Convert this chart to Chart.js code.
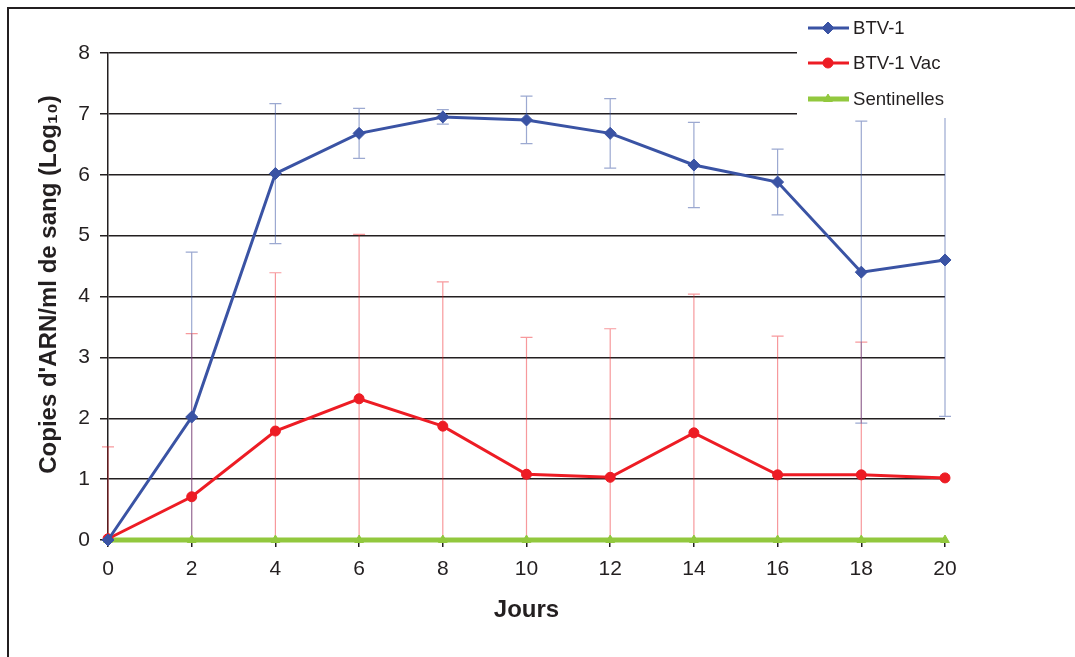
<!DOCTYPE html>
<html>
<head>
<meta charset="utf-8">
<script src="https://cdn.jsdelivr.net/npm/chart.js@4"></script>
<style>
  html, body { margin: 0; padding: 0; background: #fff; }
  #wrap { width: 1075px; height: 657px; }
</style>
</head>
<body>
<div id="wrap"><canvas id="chart" width="1075" height="657"></canvas></div>
<script>
// values (log10 copies / ml)
const days = [0, 2, 4, 6, 8, 10, 12, 14, 16, 18, 20];
const btv1 = [0.0, 2.02, 6.02, 6.68, 6.95, 6.90, 6.68, 6.16, 5.88, 4.40, 4.60];
const btv1Sd = [0, 2.71, 1.15, 0.41, 0.12, 0.39, 0.57, 0.70, 0.54, 2.48, 2.57];
const btv1Vac = [0.02, 0.71, 1.79, 2.32, 1.87, 1.08, 1.03, 1.76, 1.07, 1.07, 1.02];
const btv1VacSd = [1.51, 2.68, 2.60, 2.70, 2.37, 2.25, 2.44, 2.28, 2.28, 2.18, 0];
const sentinelles = [0, 0, 0, 0, 0, 0, 0, 0, 0, 0, 0];

const FONT = '"Liberation Sans", Arial, sans-serif';
const BLUE = '#3a53a4';
const RED = '#ed1c24';
const GREEN = '#92c83e';

const pts = arr => days.map((d, i) => ({ x: d, y: arr[i] }));

// error bars, drawn under the lines
const errorBars = {
  id: 'errorBars',
  beforeDatasetsDraw(chart) {
    const { ctx, chartArea, scales: { x, y } } = chart;
    const sets = [
      { vals: btv1Vac, sd: btv1VacSd, color: 'rgba(237,28,36,0.45)' },
      { vals: btv1, sd: btv1Sd, color: 'rgba(58,83,164,0.5)' }
    ];
    ctx.save();
    ctx.beginPath();
    ctx.rect(chartArea.left - 10, chartArea.top, chartArea.width + 20, chartArea.height);
    ctx.clip();
    ctx.lineWidth = 1.2;
    sets.forEach(s => {
      ctx.strokeStyle = s.color;
      days.forEach((d, i) => {
        if (!s.sd[i]) return;
        const px = x.getPixelForValue(d);
        const top = y.getPixelForValue(s.vals[i] + s.sd[i]);
        const bot = y.getPixelForValue(s.vals[i] - s.sd[i]);
        ctx.beginPath();
        ctx.moveTo(px, top); ctx.lineTo(px, bot);
        ctx.moveTo(px - 6, top); ctx.lineTo(px + 6, top);
        ctx.moveTo(px - 6, bot); ctx.lineTo(px + 6, bot);
        ctx.stroke();
      });
    });
    ctx.restore();
  }
};

// outer frame of the figure
const frame = {
  id: 'frame',
  beforeDraw(chart) {
    const ctx = chart.ctx;
    ctx.save();
    ctx.fillStyle = '#fff';
    ctx.fillRect(0, 0, chart.width, chart.height);
    ctx.strokeStyle = '#231f20';
    ctx.lineWidth = 2;
    ctx.strokeRect(8, 8, 1200, 800);
    ctx.restore();
  }
};

// legend box in the top right corner, over the plot
const legendBox = {
  id: 'legendBox',
  afterDraw(chart) {
    const ctx = chart.ctx;
    ctx.save();
    ctx.fillStyle = '#fff';
    ctx.fillRect(797, 9, 300, 109);
    chart.data.datasets.forEach((ds, i) => {
      const yy = [28, 63, 99][i];
      ctx.strokeStyle = ds.borderColor;
      ctx.lineWidth = ds.borderWidth;
      ctx.beginPath();
      ctx.moveTo(808, yy); ctx.lineTo(849, yy);
      ctx.stroke();
      ctx.fillStyle = ds.backgroundColor;
      ctx.lineWidth = 1;
      Chart.helpers.drawPoint(ctx, { pointStyle: ds.pointStyle, radius: ds.pointRadius, rotation: 0, borderWidth: 1 }, 828, yy);
      ctx.fillStyle = '#231f20';
      ctx.font = '18.6px ' + FONT;
      ctx.textBaseline = 'middle';
      ctx.fillText(ds.label, 853, yy + 1);
    });
    ctx.restore();
  }
};

new Chart(document.getElementById('chart'), {
  type: 'line',
  data: {
    datasets: [
      {
        label: 'BTV-1', data: pts(btv1),
        borderColor: BLUE, backgroundColor: BLUE, borderWidth: 3,
        pointStyle: 'rectRot', pointRadius: 6, pointBorderWidth: 1
      },
      {
        label: 'BTV-1 Vac', data: pts(btv1Vac),
        borderColor: RED, backgroundColor: RED, borderWidth: 3,
        pointStyle: 'circle', pointRadius: 5, pointBorderWidth: 1
      },
      {
        label: 'Sentinelles', data: pts(sentinelles),
        borderColor: GREEN, backgroundColor: GREEN, borderWidth: 5,
        pointStyle: 'triangle', pointRadius: 5, pointBorderWidth: 1
      }
    ]
  },
  options: {
    responsive: false,
    animation: false,
    clip: false,
    layout: { padding: { left: 31, top: 53, right: 130, bottom: 32 } },
    plugins: { legend: { display: false }, tooltip: { enabled: false } },
    scales: {
      x: {
        type: 'linear', min: 0, max: 20,
        ticks: { stepSize: 2, color: '#231f20', padding: 10, font: { family: FONT, size: 21 } },
        grid: { drawOnChartArea: false, drawTicks: true, tickLength: 7, color: '#231f20', lineWidth: 1.5 },
        border: { color: '#231f20', width: 1.5 },
        title: {
          display: true, text: 'Jours', color: '#231f20',
          font: { family: FONT, size: 24, weight: 'bold' }, padding: { top: 4, bottom: 0 }
        },
        afterFit(s) { s.height = 85; }
      },
      y: {
        min: 0, max: 8,
        ticks: { stepSize: 1, color: '#231f20', padding: 10, font: { family: FONT, size: 21 } },
        grid: { color: '#231f20', lineWidth: 1.5, tickLength: 8 },
        border: { color: '#231f20', width: 1.5 },
        title: {
          display: true, text: "\u2002\u2002Copies d'ARN/ml de sang (Log\u2081\u2080)", color: '#231f20',
          font: { family: FONT, size: 24, weight: 'bold' }, padding: { top: 4, bottom: 4 }
        },
        afterFit(s) { s.width = 77; }
      }
    }
  },
  plugins: [frame, errorBars, legendBox]
});
</script>
</body>
</html>
